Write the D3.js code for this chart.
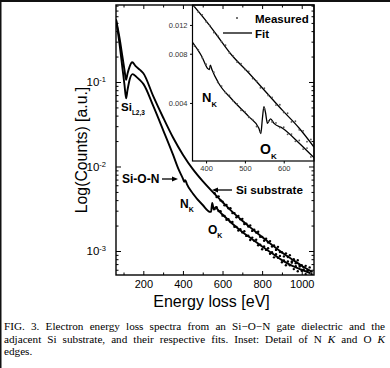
<!DOCTYPE html>
<html><head><meta charset="utf-8">
<script src="https://cdn.jsdelivr.net/npm/d3@7/dist/d3.min.js"></script>
<style>body{margin:0;background:#fff}svg{display:block}</style>
</head><body>
<svg id="c" width="390" height="368"></svg>
<script>
// ---------- data ----------
const xTicksMain=[200,400,600,800,1000];
const xMinorMain=[100,300,500,700,900];
const yTicksMain=[1e-3,1e-2,1e-1];
const yTickExp=["-3","-2","-1"];
const xTicksInset=[400,500,600];
const yTicksInset=[0.004,0.008,0.012];
const yTickLabelsInset=["0.004","0.008","0.012"];

// main fits
const eSub=[62,80,95,105,113,120,130,144,160,183,200,250,300,350,400,450,500,550,600,650,700,750,800,850,900,950,1000,1050];
const fitSub=[0.55,0.33,0.195,0.138,0.106,0.125,0.150,0.171,0.155,0.139,0.127,0.068,0.038,0.022,0.0138,0.0093,0.0067,0.0050,0.0038,0.0029,0.00228,0.00182,0.00146,0.00118,0.00096,0.00080,0.00067,0.00057];
const eSion=[62,80,95,105,113,120,130,146,165,183,200,250,300,350,376,400,407,412,420,450,500,538,542,548,556,565,580,600,650,700,750,800,850,900,950,1000,1045];
const fitSion=[0.55,0.28,0.143,0.092,0.064,0.080,0.105,0.124,0.115,0.105,0.095,0.052,0.027,0.0138,0.0095,0.0072,0.0066,0.0069,0.0062,0.0048,0.0035,0.0029,0.0029,0.0037,0.0031,0.0033,0.0030,0.0027,0.0021,0.00168,0.00138,0.00113,0.00094,0.00078,0.00067,0.00060,0.000545];
// main measured
const eMeas=[560,570,580,590,600,610,620,630,640,650,660,670,680,690,700,710,720,730,740,750,760,770,780,790,800,810,820,830,840,850,860,870,880,890,900,910,920,930,940,950,960,970,980,990,1000,1010,1020,1030,1040,1050];
const measSub=[0.00484,0.00436,0.00443,0.00396,0.00384,0.00347,0.00351,0.00321,0.00321,0.00281,0.00281,0.00251,0.00260,0.00237,0.00240,0.00209,0.00211,0.00195,0.00201,0.00173,0.00179,0.00165,0.00169,0.00147,0.00147,0.00132,0.00140,0.00126,0.00131,0.00113,0.00116,0.00103,0.00112,0.000973,0.000968,0.000863,0.000938,0.000849,0.000893,0.000753,0.000798,0.000715,0.000778,0.000678,0.000679,0.000600,0.000667,0.000586,0.000640,0.000532];
const measSion=[0.00313,0.00330,0.00297,0.00295,0.00262,0.00260,0.00234,0.00238,0.00220,0.00220,0.00194,0.00193,0.00175,0.00181,0.00166,0.00171,0.00151,0.00152,0.00135,0.00144,0.00132,0.00136,0.00117,0.00119,0.00105,0.00113,0.00103,0.00108,0.000927,0.000966,0.000841,0.000914,0.000832,0.000875,0.000735,0.000774,0.000679,0.000752,0.000678,0.000728,0.000611,0.000662,0.000577,0.000655,0.000583,0.000641,0.000533,0.000586,0.000505,0.000573];

// inset fits
const eInSub=[365,400,425,467,510,553,597,640,678];
const inFitSub=[0.0160,0.0127,0.0106,0.0078,0.0061,0.0047,0.0036,0.0028,0.00215];
const eInSion=[365,389,404,408,411,415,432,467,510,536,541,545,549,553,558,566,575,597,640,678];
const inFitSion=[0.0094,0.0077,0.0065,0.0064,0.0068,0.0064,0.0053,0.0042,0.0033,0.0028,0.0026,0.0032,0.0038,0.0035,0.0030,0.0032,0.0030,0.0028,0.00227,0.00185];
// inset measured
const eInMeas=[370,380,390,400,410,420,430,440,450,460,470,480,490,500,510,520,530,540,550,560,570,580,590,600,610,620,630,640,650,660,670];
const inMeasSub=[0.01570,0.01436,0.01384,0.01253,0.01189,0.01079,0.01033,0.00944,0.00902,0.00809,0.00774,0.00710,0.00695,0.00641,0.00624,0.00564,0.00546,0.00495,0.00492,0.00445,0.00433,0.00388,0.00390,0.00350,0.00346,0.00306,0.00309,0.00274,0.00270,0.00232,0.00239];
const inMeasSion=[0.00891,0.00843,0.00757,0.00690,0.00661,0.00617,0.00535,0.00507,0.00462,0.00445,0.00411,0.00394,0.00361,0.00354,0.00327,0.00316,0.00287,0.00267,0.00370,0.00309,0.00306,0.00302,0.00283,0.00284,0.00257,0.00258,0.00233,0.00236,0.00209,0.00212,0.00187];

const captionLines=[
  [{t:"FIG. 3. Electron energy loss spectra from an Si\u2212O\u2212N gate dielectric and the"}],
  [{t:"adjacent Si substrate, and their respective fits. Inset: Detail of N "},{t:"K",i:true},{t:" and O "},{t:"K",i:true}],
  [{t:"edges."}]
];

// ---------- drawing ----------
const svg=d3.select("#c");
const SANS="'Liberation Sans', Arial, Helvetica, sans-serif";
svg.append("rect").attr("width",390).attr("height",368).attr("fill","#fff");
svg.append("line").attr("x1",0).attr("x2",390).attr("y1",1).attr("y2",1).attr("stroke","#111").attr("stroke-width",2);
svg.append("line").attr("x1",0.75).attr("x2",0.75).attr("y1",0).attr("y2",368).attr("stroke","#111").attr("stroke-width",1.5);

const M={l:116,r:314,t:5,b:275};
const x=d3.scaleLinear().domain([62,1062]).range([M.l,M.r]);
const y=d3.scaleLog().domain([Math.pow(10,-3.284),Math.pow(10,-0.089)]).range([M.b,M.t]);

const yMinor=[];
for(let p=-4;p<=0;p++)for(let k=2;k<=9;k++){const v=k*Math.pow(10,p);if(v>y.domain()[0]&&v<y.domain()[1])yMinor.push(v);}

function styleAxis(g){g.select(".domain").remove();g.selectAll("line").attr("stroke","#000").attr("stroke-width",1);g.attr("font-family",SANS);}

svg.append("defs").append("clipPath").attr("id","clipM").append("rect")
  .attr("x",M.l).attr("y",M.t).attr("width",M.r-M.l).attr("height",M.b-M.t);

// main axes (bottom & left with labels)
svg.append("g").attr("transform",`translate(0,${M.b})`)
  .call(d3.axisBottom(x).tickValues(xTicksMain).tickSize(-4).tickPadding(5.5).tickFormat(d3.format("d")))
  .call(styleAxis).call(g=>g.selectAll("text").attr("font-size",11).attr("fill","#000"));
svg.append("g").attr("transform",`translate(0,${M.b})`)
  .call(d3.axisBottom(x).tickValues(xMinorMain).tickSize(-2.5).tickFormat(""))
  .call(styleAxis);
svg.append("g").attr("transform",`translate(${M.l},0)`)
  .call(d3.axisLeft(y).tickValues(yTicksMain).tickSize(-5).tickPadding(10).tickFormat(()=>""))
  .call(styleAxis)
  .call(g=>g.selectAll(".tick text").attr("font-size",11.5).attr("fill","#000").each(function(d,i){
     const t=d3.select(this);
     t.append("tspan").text("10");
     t.append("tspan").attr("dy","-0.5em").attr("font-size",7.5).text(yTickExp[i]);
  }));
svg.append("g").attr("transform",`translate(${M.l},0)`)
  .call(d3.axisLeft(y).tickValues(yMinor).tickSize(-2.5).tickFormat(""))
  .call(styleAxis);

// main curves
const lineM=d3.line().x(d=>x(d[0])).y(d=>y(d[1])).curve(d3.curveMonotoneX);
const gM=svg.append("g").attr("clip-path","url(#clipM)");
gM.append("path").datum(eSub.map((e,i)=>[e,fitSub[i]])).attr("d",lineM).attr("fill","none").attr("stroke","#000").attr("stroke-width",1.9);
gM.append("path").datum(eSion.map((e,i)=>[e,fitSion[i]])).attr("d",lineM).attr("fill","none").attr("stroke","#000").attr("stroke-width",1.9);
gM.selectAll("circle.ms").data(eMeas.map((e,i)=>[e,measSub[i]])).join("circle").attr("class","ms")
  .attr("cx",d=>x(d[0])).attr("cy",d=>y(d[1])).attr("r",1.2).attr("fill","#000");
gM.selectAll("circle.mn").data(eMeas.map((e,i)=>[e,measSion[i]])).join("circle").attr("class","mn")
  .attr("cx",d=>x(d[0])).attr("cy",d=>y(d[1])).attr("r",1.2).attr("fill","#000");

// main annotations
function sub(g,xx,yy,main,s,fs,sfs){
  const t=g.append("text").attr("x",xx).attr("y",yy).attr("font-family",SANS).attr("font-weight","bold").attr("font-size",fs).attr("fill","#000");
  t.append("tspan").text(main);
  t.append("tspan").attr("dy",fs*0.35).attr("font-size",sfs).text(s);
}
sub(svg,121,111,"Si","L2,3",11.5,6.5);
sub(svg,180,208,"N","K",12,7);
sub(svg,208,234,"O","K",12,7);
svg.append("text").attr("x",122).attr("y",183).attr("font-family",SANS).attr("font-weight","bold").attr("font-size",12).text("Si-O-N");
svg.append("text").attr("x",236).attr("y",194).attr("font-family",SANS).attr("font-weight","bold").attr("font-size",11.7).text("Si substrate");
function arrow(x1,y1,x2,y2){
  svg.append("line").attr("x1",x1).attr("y1",y1).attr("x2",x2+(x2>x1?-4:4)).attr("y2",y2).attr("stroke","#000").attr("stroke-width",1.3);
  const dir=x2>x1?-1:1;
  svg.append("path").attr("d",`M${x2},${y2} L${x2+dir*6},${y2-2.6} L${x2+dir*6},${y2+2.6} Z`).attr("fill","#000");
}
arrow(162,179,178,179);
arrow(232,190,212,190);

// axis titles
svg.append("text").attr("x",211.5).attr("y",307).attr("text-anchor","middle").attr("font-family",SANS).attr("font-size",16).text("Energy loss [eV]");
svg.append("text").attr("transform","translate(87,150) rotate(-90)").attr("text-anchor","middle").attr("font-family",SANS).attr("font-size",15.8).text("Log(Counts) [a.u.]");

// ---------- inset ----------
const I={l:192.5,r:M.r,t:M.t,b:161};
const xi=d3.scaleLinear().domain([365,678]).range([I.l,I.r]);
const yi=d3.scaleLog().domain([0.001766,0.01589]).range([I.b,I.t]);
svg.append("rect").attr("x",I.l).attr("y",I.t).attr("width",I.r-I.l).attr("height",I.b-I.t).attr("fill","#fff").attr("stroke","#000").attr("stroke-width",1.2);
svg.select("defs").append("clipPath").attr("id","clipI").append("rect")
  .attr("x",I.l).attr("y",I.t).attr("width",I.r-I.l).attr("height",I.b-I.t);
svg.append("g").attr("transform",`translate(0,${I.b})`)
  .call(d3.axisBottom(xi).tickValues(xTicksInset).tickSize(2.5).tickPadding(2).tickFormat(d3.format("d")))
  .call(styleAxis).call(g=>g.selectAll("text").attr("font-size",7.5).attr("fill","#333"));
svg.append("g").attr("transform",`translate(${I.l},0)`)
  .call(d3.axisLeft(yi).tickValues(yTicksInset).tickSize(2.5).tickPadding(2.5).tickFormat((d,i)=>yTickLabelsInset[i]))
  .call(styleAxis).call(g=>g.selectAll("text").attr("font-size",7.5).attr("fill","#333"));
const lineI=d3.line().x(d=>xi(d[0])).y(d=>yi(d[1])).curve(d3.curveMonotoneX);
const gI=svg.append("g").attr("clip-path","url(#clipI)");
gI.append("path").datum(eInSub.map((e,i)=>[e,inFitSub[i]])).attr("d",lineI).attr("fill","none").attr("stroke","#000").attr("stroke-width",1.3);
gI.append("path").datum(eInSion.map((e,i)=>[e,inFitSion[i]])).attr("d",lineI).attr("fill","none").attr("stroke","#000").attr("stroke-width",1.3);
gI.selectAll("circle.is").data(eInMeas.map((e,i)=>[e,inMeasSub[i]])).join("circle").attr("class","is")
  .attr("cx",d=>xi(d[0])).attr("cy",d=>yi(d[1])).attr("r",0.9).attr("fill","#555");
gI.selectAll("circle.in").data(eInMeas.map((e,i)=>[e,inMeasSion[i]])).join("circle").attr("class","in")
  .attr("cx",d=>xi(d[0])).attr("cy",d=>yi(d[1])).attr("r",0.9).attr("fill","#555");
// inset legend
svg.append("circle").attr("cx",237).attr("cy",18).attr("r",1).attr("fill","#444");
svg.append("text").attr("x",255).attr("y",22.5).attr("font-family",SANS).attr("font-weight","bold").attr("font-size",11.5).text("Measured");
svg.append("line").attr("x1",223).attr("x2",252).attr("y1",33).attr("y2",33).attr("stroke","#000").attr("stroke-width",1.3);
svg.append("text").attr("x",255).attr("y",37.5).attr("font-family",SANS).attr("font-weight","bold").attr("font-size",11.5).text("Fit");
sub(svg,202,102,"N","K",13,7.5);
sub(svg,260,154,"O","K",14,8);

// main mirrored axes (right & top), drawn over inset
svg.append("g").attr("transform",`translate(${M.r},0)`)
  .call(d3.axisRight(y).tickValues(yTicksMain).tickSize(-5).tickFormat(""))
  .call(styleAxis);
svg.append("g").attr("transform",`translate(${M.r},0)`)
  .call(d3.axisRight(y).tickValues(yMinor).tickSize(-2.5).tickFormat(""))
  .call(styleAxis);
svg.append("g").attr("transform",`translate(0,${M.t})`)
  .call(d3.axisTop(x).tickValues(xTicksMain).tickSize(-4).tickFormat(""))
  .call(styleAxis);
svg.append("g").attr("transform",`translate(0,${M.t})`)
  .call(d3.axisTop(x).tickValues(xMinorMain).tickSize(-2.5).tickFormat(""))
  .call(styleAxis);
svg.append("rect").attr("x",M.l).attr("y",M.t).attr("width",M.r-M.l).attr("height",M.b-M.t).attr("fill","none").attr("stroke","#000").attr("stroke-width",1.4);

// ---------- caption ----------
const SERIF="'Liberation Serif','Times New Roman',serif";
const capW=381, capX=4, capY=[330,342.5,355];
captionLines.forEach((parts,li)=>{
  const t=svg.append("text").attr("x",capX).attr("y",capY[li]).attr("font-family",SERIF).attr("font-size",11.2).attr("fill","#000").attr("xml:space","preserve");
  parts.forEach(p=>{const s=t.append("tspan").text(p.t); if(p.i) s.attr("font-style","italic");});
  if(li<2){
    const w=t.node().getComputedTextLength();
    const n=parts.map(p=>p.t).join("").split(" ").length-1;
    t.attr("word-spacing",((capW-w)/n).toFixed(3));
  }
});
</script>
</body></html>
